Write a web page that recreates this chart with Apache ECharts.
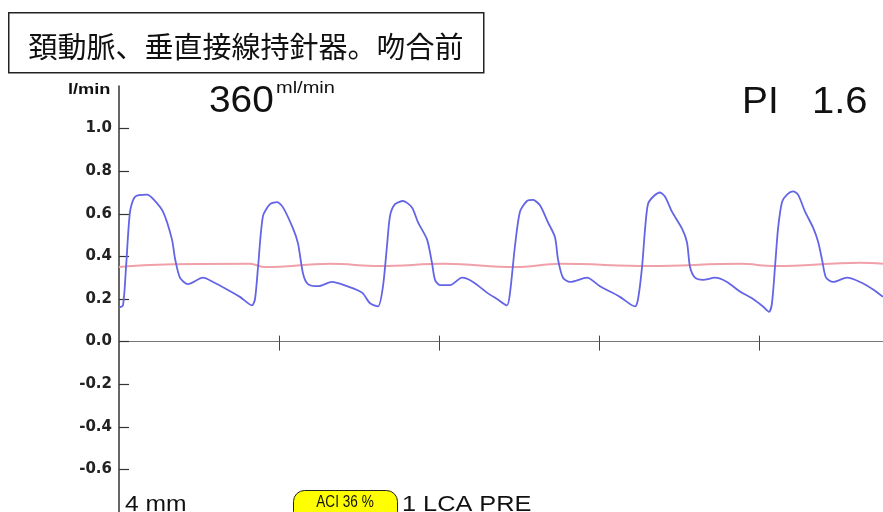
<!DOCTYPE html>
<html>
<head>
<meta charset="utf-8">
<script src="https://cdn.jsdelivr.net/npm/echarts@6/dist/echarts.min.js"></script>
<style>
  html, body { margin: 0; padding: 0; background: #fff; }
  #chart { width: 883px; height: 512px; }
</style>
</head>
<body>
<div id="chart"></div>
<script>
// 血流波形 (time in s, flow in l/min)
var flowTime = [0, 0.025, 0.044, 0.069, 0.1, 0.175, 0.213, 0.275, 0.331, 0.35, 0.381, 0.431, 0.525, 0.588, 0.675, 0.756, 0.831,
  0.85, 0.869, 0.9, 0.944, 0.988, 1.025, 1.088, 1.119, 1.15, 1.181, 1.244, 1.331, 1.425, 1.519, 1.569, 1.619,
  1.65, 1.675, 1.694, 1.725, 1.775, 1.831, 1.869, 1.925, 1.956, 1.975, 2.006, 2.069, 2.144, 2.213, 2.3, 2.363, 2.425,
  2.444, 2.475, 2.506, 2.55, 2.588, 2.631, 2.681, 2.725, 2.744, 2.775, 2.819, 2.925, 3.006, 3.069, 3.131, 3.225,
  3.244, 3.269, 3.288, 3.306, 3.338, 3.381, 3.413, 3.456, 3.519, 3.55, 3.569, 3.6, 3.65, 3.725, 3.8, 3.881, 3.963, 4.025, 4.063,
  4.081, 4.1, 4.119, 4.144, 4.175, 4.213, 4.244, 4.288, 4.338, 4.369, 4.394, 4.419, 4.463, 4.55, 4.631, 4.713, 4.775];
var flowValue = [0.16, 0.17, 0.35, 0.61, 0.68, 0.69, 0.67, 0.61, 0.48, 0.39, 0.30, 0.27, 0.30, 0.28, 0.245, 0.21, 0.17,
  0.20, 0.35, 0.59, 0.645, 0.655, 0.63, 0.53, 0.46, 0.32, 0.27, 0.26, 0.28, 0.26, 0.23, 0.18, 0.165,
  0.26, 0.45, 0.59, 0.645, 0.66, 0.63, 0.56, 0.48, 0.37, 0.29, 0.265, 0.265, 0.30, 0.28, 0.23, 0.20, 0.17,
  0.23, 0.45, 0.61, 0.66, 0.665, 0.64, 0.56, 0.49, 0.385, 0.30, 0.28, 0.30, 0.26, 0.235, 0.21, 0.165,
  0.20, 0.35, 0.53, 0.645, 0.68, 0.70, 0.68, 0.61, 0.53, 0.465, 0.35, 0.30, 0.29, 0.30, 0.28, 0.235, 0.20, 0.165, 0.14,
  0.18, 0.35, 0.53, 0.655, 0.69, 0.705, 0.69, 0.61, 0.535, 0.47, 0.385, 0.30, 0.28, 0.30, 0.28, 0.245, 0.21];
// 平均流量
var meanTime = [0, 0.194, 0.819, 0.913, 1.319, 1.631, 2.038, 2.475, 2.756, 3.319, 3.881, 4.1, 4.631, 4.775];
var meanValue = [0.35, 0.36, 0.365, 0.35, 0.365, 0.355, 0.365, 0.35, 0.365, 0.355, 0.365, 0.355, 0.37, 0.365];
var yTicks = [-0.6, -0.4, -0.2, 0, 0.2, 0.4, 0.6, 0.8, 1.0];
var xTicks = [1, 2, 3, 4];
var yMin = -0.8, yMax = 1.2;

function pairs(t, v) {
  return t.map(function (x, i) { return [x, v[i]]; });
}

var gridTop = 86, gridBottom = 0, chartH = 512;
// lower half of the crossing ticks: second axis lifted up to y = 0
var zeroOffset = -(chartH - gridTop - gridBottom) * (0 - yMin) / (yMax - yMin);

var chart = echarts.init(document.getElementById('chart'), null, { renderer: 'canvas' });

function txt(x, y, s, font, align, vAlign, sx) {
  return {
    type: 'text', x: x, y: y, scaleX: sx || 1,
    style: { text: s, fill: '#111', font: font, align: align, verticalAlign: vAlign }
  };
}

var option = {
  animation: false,
  backgroundColor: '#fff',
  grid: { left: 119, right: 0, top: gridTop, bottom: gridBottom },
  xAxis: [
    {
      type: 'value', min: 0, max: 4.775, interval: 1, position: 'bottom',
      axisLine: { onZero: true, lineStyle: { color: '#777', width: 1 } },
      axisTick: { show: true, inside: true, length: 6, customValues: xTicks, lineStyle: { color: '#444' } },
      axisLabel: { show: false },
      splitLine: { show: false }
    },
    {
      type: 'value', min: 0, max: 4.775, interval: 1, position: 'bottom', offset: zeroOffset,
      axisLine: { show: false, onZero: false },
      axisTick: { show: true, inside: false, length: 9, customValues: xTicks, lineStyle: { color: '#444' } },
      axisLabel: { show: false },
      splitLine: { show: false }
    }
  ],
  yAxis: {
    type: 'value', min: yMin, max: yMax, interval: 0.2,
    axisLine: { show: true, onZero: false, lineStyle: { color: '#333', width: 1.5 } },
    axisTick: { show: true, inside: true, length: 10, customValues: yTicks, lineStyle: { color: '#333', width: 1.2 } },
    axisLabel: {
      customValues: yTicks, margin: 7, color: '#222', fontSize: 15, fontWeight: 'bold',
      fontFamily: 'DejaVu Sans',
      formatter: function (v) { return v.toFixed(1); }
    },
    splitLine: { show: false }
  },
  series: [
    {
      name: '平均', type: 'line', data: pairs(meanTime, meanValue), smooth: 0.4,
      showSymbol: false, lineStyle: { color: '#f0a0a8', width: 2 }, z: 2
    },
    {
      name: '流量', type: 'line', data: pairs(flowTime, flowValue), smooth: 0.25,
      showSymbol: false, lineStyle: { color: '#6464e6', width: 1.8 }, z: 3
    }
  ],
  graphic: [
    {
      type: 'rect', left: 8, top: 12,
      shape: { width: 475, height: 60 },
      style: { fill: '#fff', stroke: '#222', lineWidth: 1.5 }
    },
    txt(246, 47, '頚動脈、垂直接線持針器。吻合前', '29px "Noto Sans CJK JP"', 'center', 'middle'),
    txt(68, 90, 'l/min', 'bold 14px "Liberation Sans"', 'left', 'middle', 1.3),
    txt(209, 120, '360', '37px "Liberation Sans"', 'left', 'bottom', 1.05),
    txt(276, 89, 'ml/min', '16px "Liberation Sans"', 'left', 'middle', 1.25),
    txt(742, 121, 'PI', '37px "Liberation Sans"', 'left', 'bottom', 1.05),
    txt(812, 121, '1.6', '37px "Liberation Sans"', 'left', 'bottom', 1.08),
    txt(125, 516, '4 mm', '22px "Liberation Sans"', 'left', 'bottom', 1.12),
    {
      type: 'rect', left: 293, top: 490,
      shape: { width: 104, height: 32, r: 11 },
      style: { fill: '#ffff00', stroke: '#222', lineWidth: 1 }
    },
    txt(345, 503, 'ACI 36 %', '16px "Liberation Sans"', 'center', 'middle', 0.85),
    txt(402, 516, '1 LCA PRE', '22px "Liberation Sans"', 'left', 'bottom', 1.15)
  ]
};

chart.setOption(option);
</script>
</body>
</html>
